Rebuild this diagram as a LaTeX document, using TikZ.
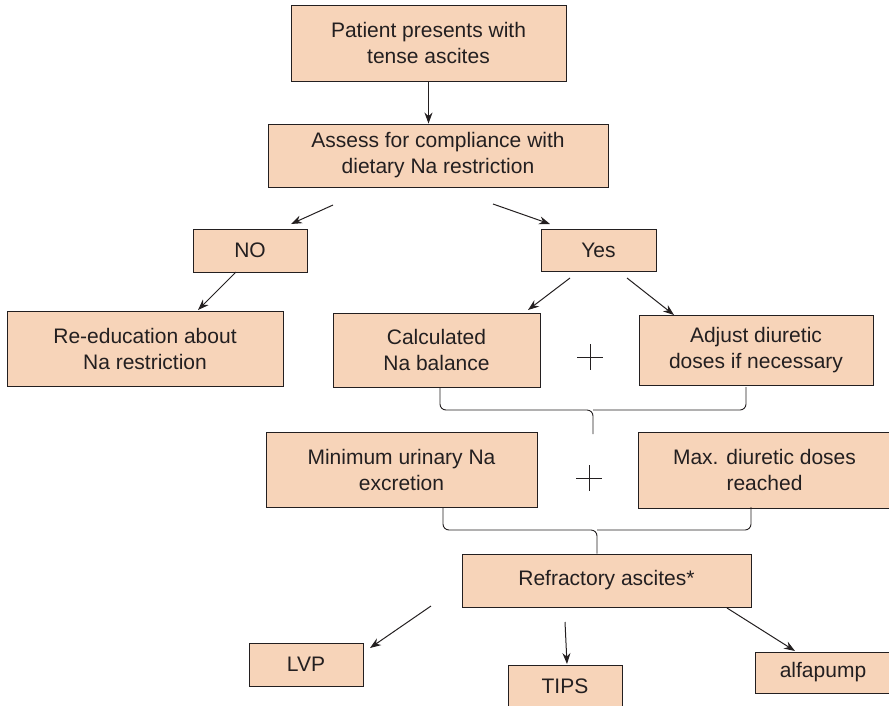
\documentclass[tikz,border=0pt]{standalone}
\usepackage{fontspec}
\setmainfont{Liberation Sans}
\usetikzlibrary{arrows.meta}
\definecolor{peach}{RGB}{247,212,185}
\definecolor{ink}{RGB}{35,31,32}
\begin{document}
\begin{tikzpicture}[x=1pt,y=-1pt,
  box/.style={draw=ink,fill=peach,line width=0.9pt,inner sep=0pt,
    align=center,font=\fontsize{21}{26}\selectfont,text=ink},
  link/.style={draw=ink,line width=1pt,-{Stealth[length=11pt,width=8pt]}},
  brace/.style={draw=ink,line width=0.9pt,rounded corners=6pt},
  plus/.style={draw=ink,line width=0.6pt}]
\useasboundingbox (0,0) rectangle (889,705);

% boxes
\node[box,minimum width=275,minimum height=76] (start) at (428.5,43) {Patient presents with\\tense ascites};
\node[box,minimum width=340,minimum height=63] (assess) at (438,155.5) {Assess for compliance with\\dietary Na restriction};
\node[box,minimum width=114,minimum height=43] (no) at (250,250.5) {NO};
\node[box,minimum width=115,minimum height=42] (yes) at (598.5,250) {Yes};
\node[box,minimum width=276,minimum height=75] (reedu) at (145,348.5) {Re-education about\\Na restriction};
\node[box,minimum width=207,minimum height=74] (calc) at (436.5,350) {Calculated\\Na balance};
\node[box,minimum width=234,minimum height=70] (adjust) at (756,350) {Adjust diuretic\\doses if necessary};
\node[box,minimum width=271,minimum height=75] (minna) at (401.5,469.5) {Minimum urinary Na\\excretion};
\node[box,minimum width=253,minimum height=76] (maxdose) at (764.5,470) {Max. diuretic doses\\reached};
\node[box,minimum width=289,minimum height=53] (refr) at (606.5,580.5) {Refractory ascites*};
\node[box,minimum width=114,minimum height=43] (lvp) at (306,664.5) {LVP};
\node[box,minimum width=114,minimum height=43] (tips) at (565,686.5) {TIPS};
\node[box,minimum width=136,minimum height=41] (alfa) at (823,672.5) {alfapump};

% free start points of the detached arrows
\coordinate (aL) at (333,205);
\coordinate (aR) at (493,204);
\coordinate (nL) at (236,272);
\coordinate (yL) at (570,278);
\coordinate (yR) at (627,278);
\coordinate (rL) at (431,606);
\coordinate (rM) at (565,622);
\coordinate (rR) at (727,608);

% arrows
\draw[link] (start.south) -- (start.south |- assess.north);
\draw[link] (aL) -- (291,224);
\draw[link] (aR) -- (550,224);
\draw[link] (nL) -- (198,310);
\draw[link] (yL) -- (528,310);
\draw[link] (yR) -- (674,315);
\draw[link] (rL) -- (370,648);
\draw[link] (rM) -- (567,664);
\draw[link] (rR) -- (795,651);

% plus signs
\draw[plus] (577,357) -- (603,357) (590,344) -- (590,370);
\draw[plus] (576,478) -- (602,478) (589,465) -- (589,491);

% braces joining box pairs
\coordinate (b1) at (593,434);
\draw[brace] (440,387) -- (440,410) -- (593,410) -- (b1);
\draw[brace] (746,387) -- (746,410) -- (593,410);
\draw[brace] (443,507) -- (443,530) -- (597,530) -- (refr.north -| 597,0);
\draw[brace] (751,507) -- (751,530) -- (597,530);
\end{tikzpicture}
\end{document}
